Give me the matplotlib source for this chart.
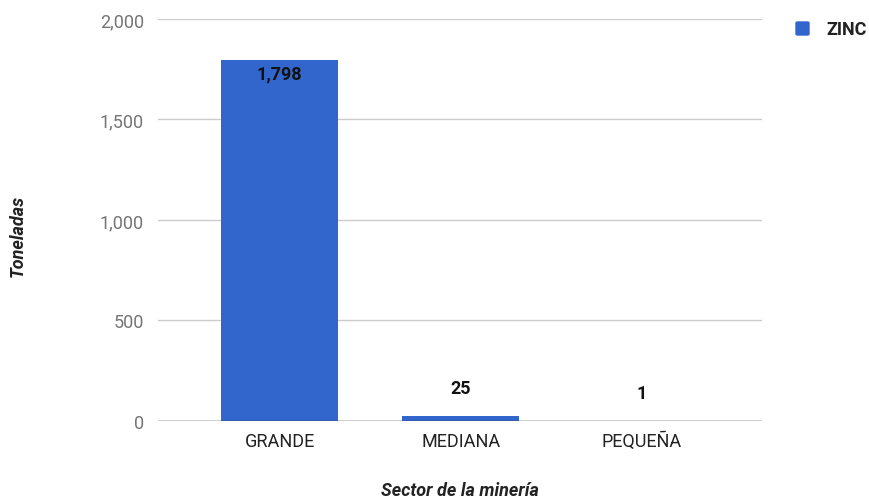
import matplotlib.pyplot as plt
from matplotlib.patches import FancyBboxPatch

plt.rcParams["font.family"] = ["Roboto", "DejaVu Sans"]

sectors = ["GRANDE", "MEDIANA", "PEQUEÑA"]
zinc = [1798, 25, 1]
y_ticks = [0, 500, 1000, 1500, 2000]
y_tick_labels = ["0", "500", "1,000", "1,500", "2,000"]

blue = "#3366cc"

fig = plt.figure(figsize=(8.69, 5.02), dpi=100)
ax = fig.add_axes([0.1818, 0.1594, 0.8769 - 0.1818, 0.9602 - 0.1594])

x = range(len(sectors))
bars = ax.bar(x, zinc, width=0.646, color=blue, zorder=3)

ax.set_xlim(-0.672, 2.665)
ax.set_ylim(0, 2000)
ax.set_yticks(y_ticks)
ax.set_yticklabels(y_tick_labels)
ax.set_xticks(list(x))
ax.set_xticklabels(sectors)
ax.tick_params(axis="y", length=0, pad=10, labelsize=13, labelcolor="#757575")
ax.tick_params(axis="x", length=0, pad=8, labelsize=13, labelcolor="#222222")

ax.grid(axis="y", color="#cccccc", linewidth=1, zorder=0)
for side in ["top", "right", "left", "bottom"]:
    ax.spines[side].set_visible(False)
ax.axhline(0, color="#333333", linewidth=1, zorder=4)

# value labels: inside the bar when it is tall enough, above otherwise
for rect, val in zip(bars, zinc):
    cx = rect.get_x() + rect.get_width() / 2
    offset = -14 if val > 200 else 28
    ax.annotate(f"{val:,}", (cx, val), xytext=(0, offset), textcoords="offset pixels",
                ha="center", va="center", fontsize=13, fontweight="bold", color="#111111", zorder=5)

ax.set_ylabel("Toneladas", fontsize=13, fontstyle="italic", fontweight="bold", color="#222222")
ax.yaxis.label.set_va("center")
ax.yaxis.set_label_coords(-140 / 604, 0.463)
ax.set_xlabel("Sector de la minería", fontsize=13, fontstyle="italic", fontweight="bold", color="#222222")
ax.xaxis.label.set_va("center")
ax.xaxis.set_label_coords(0.5, -69 / 402)

# legend
fig.patches.append(FancyBboxPatch((796 / 869, 1 - 36 / 502), 13 / 869, 13 / 502,
                                  boxstyle="round,pad=0,rounding_size=0.002",
                                  transform=fig.transFigure, color=blue))
fig.text(826 / 869, 1 - 30 / 502, "ZINC", fontsize=13, fontweight="bold", color="#222222",
         ha="left", va="center")

fig.savefig("out.png", dpi=100)
